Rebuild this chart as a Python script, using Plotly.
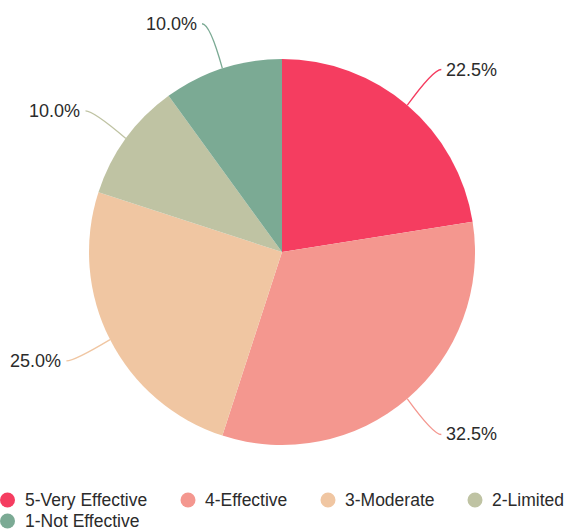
import math
import plotly.graph_objects as go

# Survey results: share of responses per effectiveness rating
categories = ["5-Very Effective", "4-Effective", "3-Moderate", "2-Limited", "1-Not Effective"]
shares = [22.5, 32.5, 25.0, 10.0, 10.0]
colors = ["#F53D60", "#F4978F", "#F0C6A2", "#BFC3A3", "#7BAA94"]

W, H = 567, 532
M_L, M_R, M_T, M_B = 0, 3, 59, 87
PW, PH = W - M_L - M_R, H - M_T - M_B
CX, CY = M_L + PW / 2, M_T + PH / 2
R = min(PW, PH) / 2

FONT = "Liberation Sans, Arial, sans-serif"
TEXT_COLOR = "#2B2B2B"

# legend layout: (swatch x, row y) in page pixels for each entry
LEGEND_SLOTS = [(7.5, 500), (188, 500), (328, 500), (475, 500), (7.5, 521)]
SWATCH_R = 7.5
SWATCH_TEXT_GAP = 15


def to_paper(px, py):
    return (px - M_L) / PW, (H - M_B - py) / PH


fig = go.Figure()
fig.add_trace(go.Pie(
    labels=categories,
    values=shares,
    marker=dict(colors=colors, line=dict(width=0)),
    sort=False,
    direction="clockwise",
    rotation=0,
    textinfo="none",
    hoverinfo="label+percent",
    showlegend=False,
    domain=dict(x=[0, 1], y=[0, 1]),
))

# outside percentage labels with curved leader lines
total = sum(shares)
LEN1, LEN2, GAP, VSTRETCH = 40, 8, 3, 1.03
shapes, annotations = [], []
cum = 0.0
for val, col in zip(shares, colors):
    mid = (cum + val / 2) / total * 2 * math.pi
    cum += val
    dx, dy = math.sin(mid), -math.cos(mid)
    p0 = (CX + R * dx, CY + R * dy)
    p1 = (CX + (R + LEN1) * dx, CY + (R + LEN1) * dy * VSTRETCH)
    side = 1 if dx >= 0 else -1
    p2 = (p1[0] + side * LEN2, p1[1])
    a, b, c = to_paper(*p0), to_paper(*p1), to_paper(*p2)
    shapes.append(dict(
        type="path", xref="paper", yref="paper",
        path=f"M {a[0]},{a[1]} Q {b[0]},{b[1]} {c[0]},{c[1]}",
        line=dict(color=col, width=1.3), layer="above",
    ))
    t = to_paper(p2[0] + side * GAP, p2[1])
    annotations.append(dict(
        x=t[0], y=t[1], xref="paper", yref="paper",
        text=f"{val:.1f}%", showarrow=False,
        xanchor="left" if side > 0 else "right", yanchor="middle",
        font=dict(family=FONT, size=18, color=TEXT_COLOR),
    ))

# legend: round swatch + category name
for name, col, (sx, sy) in zip(categories, colors, LEGEND_SLOTS):
    px, py = to_paper(sx, sy)
    shapes.append(dict(
        type="circle", xref="paper", yref="paper",
        xsizemode="pixel", ysizemode="pixel", xanchor=px, yanchor=py,
        x0=-SWATCH_R, x1=SWATCH_R, y0=-SWATCH_R, y1=SWATCH_R,
        fillcolor=col, line=dict(width=0), layer="above",
    ))
    tx, ty = to_paper(sx + SWATCH_TEXT_GAP, sy)
    annotations.append(dict(
        x=tx, y=ty, xref="paper", yref="paper",
        text=name, showarrow=False, xanchor="left", yanchor="middle",
        font=dict(family=FONT, size=17.5, color=TEXT_COLOR),
    ))

fig.update_layout(
    width=W, height=H,
    margin=dict(l=M_L, r=M_R, t=M_T, b=M_B, autoexpand=False),
    paper_bgcolor="white", plot_bgcolor="white",
    shapes=shapes, annotations=annotations,
    showlegend=False,
)

fig.write_html("out.html")
